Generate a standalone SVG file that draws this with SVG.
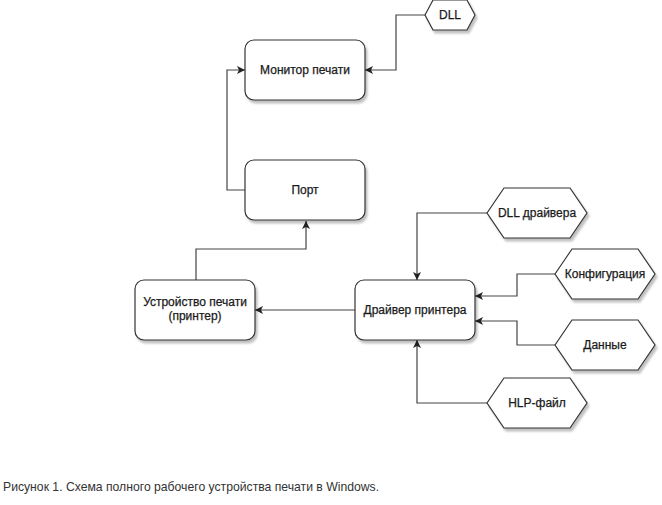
<svg xmlns="http://www.w3.org/2000/svg" width="662" height="505" viewBox="0 0 662 505">
<defs>
<filter id="sh" x="-20%" y="-20%" width="150%" height="160%">
<feGaussianBlur in="SourceAlpha" stdDeviation="1.2"/>
<feOffset dx="2" dy="3" result="b"/>
<feComponentTransfer><feFuncA type="linear" slope="0.25"/></feComponentTransfer>
<feMerge><feMergeNode/><feMergeNode in="SourceGraphic"/></feMerge>
</filter>
<marker id="arr" markerWidth="10" markerHeight="8" refX="8" refY="4" orient="auto" markerUnits="userSpaceOnUse">
<path d="M0,0 L8,4 L0,8 L2,4 Z" fill="#222"/>
</marker>
<style>
.box{fill:#fff;stroke:#333;stroke-width:1.2;filter:url(#sh)}
.lbl{font-family:"Liberation Sans",Arial,sans-serif;font-size:12px;fill:#1a1a1a;stroke:#1a1a1a;stroke-width:0.25;text-anchor:middle}
.ln{fill:none;stroke:#444;stroke-width:1.2;marker-end:url(#arr)}
.cap{font-family:"Liberation Sans",Arial,sans-serif;font-size:12.2px;fill:#333}
</style>
</defs>
<g id="connectors">
<path class="ln" d="M425,15 H396 V70 H365"/>
<path class="ln" d="M245,190 H227 V70 H245"/>
<path class="ln" d="M196,280 V249 H306 V221"/>
<path class="ln" d="M355,310 H255"/>
<path class="ln" d="M487,213 H417 V280"/>
<path class="ln" d="M555,274 H517 V296 H475"/>
<path class="ln" d="M555,345 H517 V321 H475"/>
<path class="ln" d="M487,403 H417 V340"/>
</g>
<g id="monitor"><rect class="box" x="245" y="40" width="120" height="60" rx="9"/><text class="lbl" x="305" y="74">Монитор печати</text></g>
<g id="dll"><path class="box" d="M425,15 L433,0 H467 L475,15 L467,30 H433 Z"/><text class="lbl" x="450" y="19">DLL</text></g>
<g id="port"><rect class="box" x="245" y="160" width="120" height="60" rx="9"/><text class="lbl" x="305" y="194">Порт</text></g>
<g id="device"><rect class="box" x="135" y="280" width="120" height="60" rx="9"/><text class="lbl" x="195" y="306">Устройство печати</text><text class="lbl" x="195" y="320">(принтер)</text></g>
<g id="driver"><rect class="box" x="355" y="280" width="120" height="60" rx="9"/><text class="lbl" x="415" y="314">Драйвер принтера</text></g>
<g id="dlldrv"><path class="box" d="M487,213 L504,188 H570 L587,213 L570,238 H504 Z"/><text class="lbl" x="537" y="217">DLL драйвера</text></g>
<g id="config"><path class="box" d="M555,274 L572,249 H638 L655,274 L638,299 H572 Z"/><text class="lbl" x="605" y="278">Конфигурация</text></g>
<g id="data"><path class="box" d="M555,345 L572,320 H638 L655,345 L638,370 H572 Z"/><text class="lbl" x="605" y="349">Данные</text></g>
<g id="hlp"><path class="box" d="M487,403 L504,378 H570 L587,403 L570,428 H504 Z"/><text class="lbl" x="537" y="407">HLP-файл</text></g>
<text class="cap" x="3" y="491">Рисунок 1. Схема полного рабочего устройства печати в Windows.</text>
</svg>
